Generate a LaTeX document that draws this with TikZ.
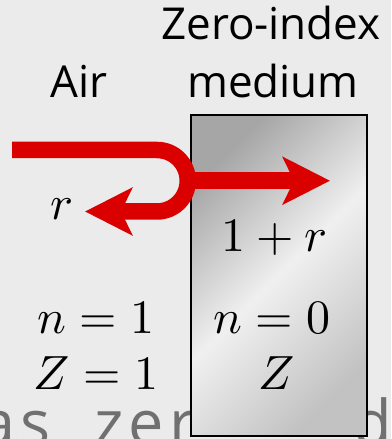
\documentclass[tikz,border=0pt]{standalone}
\usepackage{unicode-math}
\setmainfont{Open Sans}
\setmathfont{Latin Modern Math}
\usetikzlibrary{arrows.meta}
\definecolor{beamred}{RGB}{218,0,0}
\definecolor{bggray}{RGB}{235,235,235}
\pgfdeclarehorizontalshading{metal}{100bp}{color(0bp)=(black!35); color(25bp)=(black!35); color(50bp)=(black!6); color(75bp)=(black!24); color(100bp)=(black!24)}

\begin{document}
\begin{tikzpicture}[x=1pt,y=1pt,
  lbl/.style={font=\fontsize{44}{44}\selectfont, anchor=base, inner sep=0pt},
  eq/.style={font=\fontsize{48}{48}\selectfont, anchor=base, inner sep=0pt},
  faded/.style={text=black!56, font=\fontsize{63}{63}\selectfont\addfontfeature{LetterSpace=8}, inner sep=0pt},
  beam/.style={line width=16.5pt, beamred},
  tip/.style={-{Stealth[length=47pt,width=47pt,inset=11pt]}}]
\clip (0,0) rectangle (391,439);
\fill[bggray] (0,0) rectangle (391,439);
% slide text behind the slab
\node[faded, anchor=base west] (txtl) at (-20,-6) {as\hspace{0.7em}zer};
\node[faded, anchor=base east] (txtr) at (392,-6) {d};
% zero-index slab
\node[draw=black, line width=1.5pt, shading=metal, shading angle=-45, minimum width=176pt, minimum height=321pt, inner sep=0pt, anchor=south west] (slab) at (190,2) {};
% titles
\node[lbl] (air) at (79,341) {Air};
\node[lbl] (zero) at (271,399) {Zero-index};
\node[lbl] (med) at (273,341) {medium};
% quantities
\node[eq] (refl) at (62,219) {$r$};
\node[eq] (trans) at (274,187) {$1+r$};
\node[eq] (nair) at (96,105) {$n=1$};
\node[eq] (zair) at (96,49) {$Z=1$};
\node[eq] (nmed) at (272,105) {$n=0$};
\node[eq] (zmed) at (277,49) {$Z$};
% beams
\coordinate (src) at (12,289);
\coordinate (turn) at (157,289);
\coordinate (apex) at (187.75,258.25);
\coordinate (back) at (85,227.5);
\coordinate (fwd) at (330,258.25);
\draw[beam, tip] (src) -- (turn) arc[start angle=90, end angle=-90, radius=30.75] -- (back);
\draw[beam, tip] (apex) -- (fwd);
\end{tikzpicture}
\end{document}
